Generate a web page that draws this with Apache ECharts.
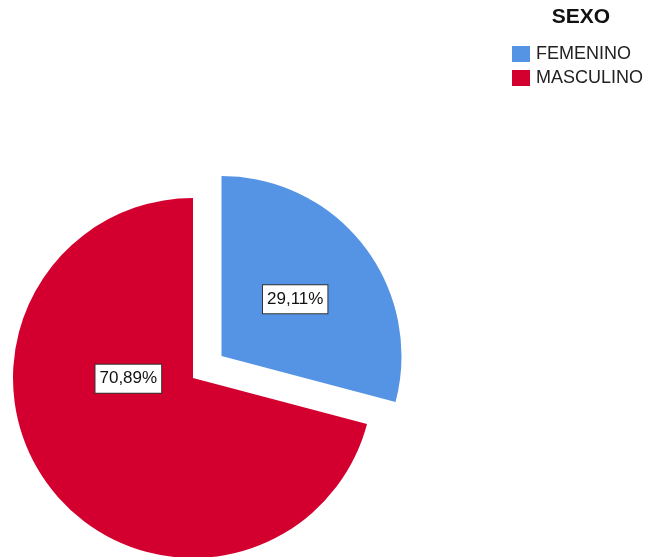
<!DOCTYPE html>
<html>
<head>
<meta charset="utf-8">
<script src="https://cdn.jsdelivr.net/npm/echarts@6/dist/echarts.min.js"></script>
<style>
  html, body { margin: 0; padding: 0; background: #fff; }
  #chart { width: 652px; height: 557px; }
</style>
</head>
<body>
<div id="chart"></div>
<script>
// Distribución por sexo
const categories = ['FEMENINO', 'MASCULINO'];
const percentages = [29.11, 70.89];
const colors = ['#5594e4', '#d3002f'];
const legendTitle = 'SEXO';

const fmt = v => v.toFixed(2).replace('.', ',') + '%';

const chart = echarts.init(document.getElementById('chart'), null, { renderer: 'canvas' });

const data = categories.map((name, i) => ({
  name: name,
  value: percentages[i],
  itemStyle: { color: colors[i] }
}));
// the smaller slice is pulled out from the pie
data[0].selected = true;
// the larger slice's label sits left of the centre
data[1].label = { offset: [9, -56] };

chart.setOption({
  animation: false,
  title: {
    text: legendTitle,
    left: 581,
    top: 7,
    padding: 0,
    textAlign: 'center',
    textStyle: { fontFamily: 'Liberation Sans', fontWeight: 'bold', fontSize: 21, color: '#111' }
  },
  legend: {
    orient: 'vertical',
    left: 512,
    top: 45,
    padding: 0,
    itemWidth: 18,
    itemHeight: 16,
    itemGap: 6,
    icon: 'rect',
    selectedMode: false,
    data: categories,
    textStyle: { fontFamily: 'Liberation Sans', fontSize: 18, color: '#222', padding: [0, 0, 0, 1] }
  },
  series: [{
    type: 'pie',
    center: [193, 378],
    radius: 180,
    startAngle: 90,
    clockwise: true,
    selectedMode: 'single',
    selectedOffset: 36,
    avoidLabelOverlap: false,
    emphasis: { disabled: true },
    label: {
      show: true,
      position: 'inside',
      formatter: p => fmt(p.value),
      fontFamily: 'Liberation Sans',
      fontSize: 17,
      color: '#111',
      backgroundColor: '#fff',
      borderColor: '#333',
      borderWidth: 1,
      padding: [6, 4, 5, 4]
    },
    labelLine: { show: false },
    data: data
  }]
});
</script>
</body>
</html>
